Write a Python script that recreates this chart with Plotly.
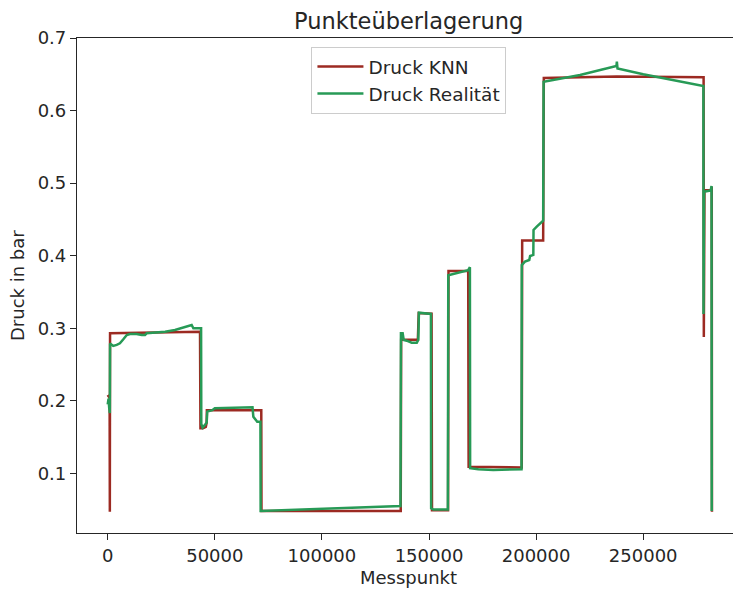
import plotly.graph_objects as go

# Messpunkt / Druck vertices of the two pressure curves
knn_x = [0, 600, 900, 1000, 1100, 43100, 43300, 44500, 45800, 46200, 46300, 71700, 71800,
         136800, 137000, 144800, 145200, 151200, 151400, 158900, 159100, 168300, 168500,
         193300, 193500, 203300, 203600, 237700, 278200, 278300, 278600, 281800, 282000, 282100]
knn_y = [0.208, 0.205, 0.204, 0.047, 0.293, 0.295, 0.162, 0.162, 0.164, 0.170, 0.187, 0.187, 0.048,
         0.048, 0.284, 0.284, 0.321, 0.320, 0.049, 0.049, 0.379, 0.379, 0.109,
         0.108, 0.421, 0.421, 0.645, 0.647, 0.646, 0.288, 0.490, 0.490, 0.495, 0.047]

real_x = [0, 400, 700, 1000, 1100, 2600, 4200, 5700, 7300, 8900, 10400, 13500, 15900, 17400,
          18200, 22100, 26800, 31400, 36100, 39200, 40000, 43600, 43700, 44300, 45200, 46200,
          46500, 48800, 50000, 67600, 68000, 69800, 71300, 71400, 136700, 136900, 137700,
          138200, 139600, 141900, 144300, 145000, 145300, 150500, 150900, 151000, 152000,
          158800, 159000, 168300, 169100, 169200, 173000, 180000, 193200, 193300, 194800,
          196800, 197200, 198700, 198800, 200300, 203300, 203500, 220500, 237500, 237700,
          238000, 250000, 278100, 278150, 278400, 281500, 281900, 282000]
real_y = [0.195, 0.203, 0.190, 0.183, 0.279, 0.2755, 0.277, 0.2792, 0.2847, 0.2906, 0.292, 0.292,
          0.2906, 0.2906, 0.293, 0.2938, 0.2952, 0.2975, 0.302, 0.3044, 0.2999, 0.2999, 0.168,
          0.163, 0.166, 0.170, 0.185, 0.187, 0.1896, 0.191, 0.178, 0.171, 0.171, 0.048, 0.055,
          0.293, 0.293, 0.2837, 0.2828, 0.280, 0.280, 0.2837, 0.3214, 0.3196, 0.3196, 0.0518,
          0.050, 0.050, 0.373, 0.380, 0.384, 0.107, 0.1055, 0.1046, 0.1055, 0.387, 0.3917,
          0.394, 0.3995, 0.401, 0.4354, 0.440, 0.4482, 0.6398, 0.649, 0.6614, 0.6674, 0.658,
          0.650, 0.6338, 0.3196, 0.488, 0.490, 0.496, 0.048]

x_ticks = [0, 50000, 100000, 150000, 200000, 250000]
y_ticks = [0.1, 0.2, 0.3, 0.4, 0.5, 0.6, 0.7]

FONT = "DejaVu Sans"
INK = "#262626"

fig = go.Figure()
fig.add_trace(go.Scatter(x=knn_x, y=knn_y, mode="lines", name="Druck KNN",
                         line=dict(color="#9c2a22", width=2.5)))
fig.add_trace(go.Scatter(x=real_x, y=real_y, mode="lines", name="Druck Realität",
                         line=dict(color="#279a56", width=2.5)))

fig.update_layout(
    width=733, height=590,
    margin=dict(l=77, r=0, t=38, b=57),
    paper_bgcolor="white", plot_bgcolor="white",
    font=dict(family=FONT, size=18, color=INK),
    showlegend=True,
    legend=dict(x=0.506, y=0.982, xanchor="center", yanchor="top",
                bgcolor="white", bordercolor="#cccccc", borderwidth=1,
                font=dict(size=18.5, color=INK), itemwidth=46,
                tracegroupgap=0),
    annotations=[
        dict(text="Punkteüberlagerung", xref="paper", yref="paper", x=0.506, y=1.034,
             xanchor="center", yanchor="middle", showarrow=False,
             font=dict(size=22.5, color=INK)),
        dict(text="Messpunkt", xref="paper", yref="paper", x=0.506, y=-0.0909,
             xanchor="center", yanchor="middle", showarrow=False,
             font=dict(size=18, color=INK)),
        dict(text="Druck in bar", xref="paper", yref="paper", x=-0.0907, y=0.5,
             xanchor="center", yanchor="middle", showarrow=False, textangle=-90,
             font=dict(size=18, color=INK)),
    ],
)

fig.update_xaxes(
    range=[-14330, 291920], tickvals=x_ticks, ticktext=[str(v) for v in x_ticks],
    showgrid=False, zeroline=False, showline=True, linecolor=INK, linewidth=1.25,
    mirror=True, ticks="outside", ticklen=6, tickwidth=1.25, tickcolor=INK,
)
fig.update_yaxes(
    range=[0.0177, 0.7], tickvals=y_ticks, ticktext=[f"{v:.1f}" for v in y_ticks],
    showgrid=False, zeroline=False, showline=True, linecolor=INK, linewidth=1.25,
    ticks="outside", ticklen=6, tickwidth=1.25, tickcolor=INK,
)

fig.write_html("out.html")
